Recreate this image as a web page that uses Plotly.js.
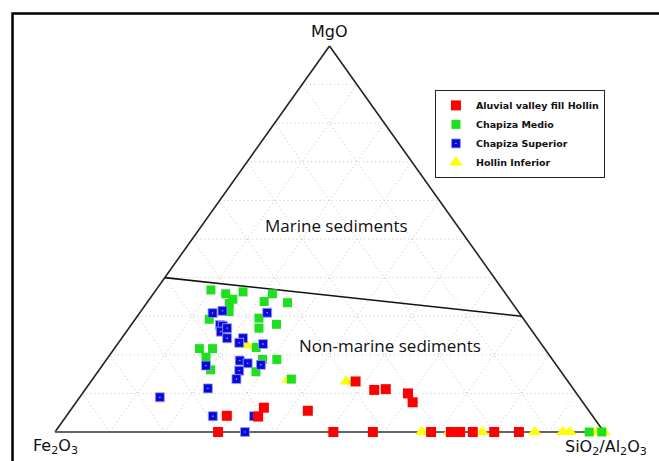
<!DOCTYPE html>
<html>
<head>
<meta charset="utf-8">
<script src="https://cdn.plot.ly/plotly-3.0.1.min.js"></script>
<style>html,body{margin:0;padding:0;background:#fff;}#chart{width:659px;height:461px;}</style>
</head>
<body>
<div id="chart"></div>
<script>
// Ternary components in percent: MgO (top), Fe2O3 (left), SiO2/Al2O3 (right)
const seriesNames = ["Aluvial valley fill Hollin", "Chapiza Medio", "Chapiza Superior", "Hollin Inferior"];

const aluvialMgO   = [4.2, 6.3, 4.0, 0, 5.5, 13.1, 10.9, 11.1, 10.0, 7.7, 0, 0, 0, 0, 0, 0, 0, 0];
const aluvialFe2O3 = [66.6, 58.8, 61.0, 70.3, 51.2, 38.7, 36.4, 34.2, 30.7, 31.0, 49.3, 42.1, 31.5, 27.9, 26.2, 23.9, 20.0, 15.5];
const aluvialSiAl  = [29.2, 34.9, 35.0, 29.7, 43.3, 48.2, 52.7, 54.7, 59.3, 61.3, 50.7, 57.9, 68.5, 72.1, 73.8, 76.1, 80.0, 84.5];

const medioMgO   = [36.8, 35.8, 36.3, 34.4, 33.3, 31.2, 35.8, 33.8, 33.5, 29.2, 29.5, 26.9, 27.9, 21.6, 21.6, 19.4, 21.9, 18.8, 18.8, 16.1, 15.6, 13.7, 0, 0];
const medioFe2O3 = [53.2, 51.0, 47.6, 50.4, 51.6, 52.7, 42.5, 45.0, 40.9, 57.3, 48.1, 49.4, 45.7, 62.9, 60.5, 62.8, 52.4, 52.8, 50.2, 63.6, 55.6, 50.1, 2.7, 0.4];
const medioSiAl  = [10.0, 13.2, 16.1, 15.2, 15.1, 16.1, 21.7, 21.2, 25.6, 13.5, 22.4, 23.7, 26.4, 15.5, 17.9, 17.8, 25.7, 28.4, 31.0, 20.3, 28.8, 36.2, 97.3, 99.6];

const superiorMgO   = [30.8, 31.4, 30.9, 27.7, 27.5, 26.0, 26.9, 24.3, 24.3, 23.1, 22.8, 18.5, 17.8, 17.4, 17.2, 15.9, 13.7, 11.3, 9.0, 4.1, 4.1, 0];
const superiorFe2O3 = [55.9, 53.8, 45.9, 56.1, 55.7, 56.8, 55.2, 56.5, 53.6, 54.9, 50.7, 57.1, 56.0, 53.8, 63.9, 58.5, 60.1, 66.5, 76.4, 69.2, 61.7, 65.4];
const superiorSiAl  = [13.3, 14.8, 23.2, 16.2, 16.8, 17.2, 17.9, 19.2, 22.1, 22.0, 26.5, 24.4, 26.2, 28.8, 18.9, 25.6, 26.2, 22.2, 14.6, 26.7, 34.2, 34.6];

const inferiorMgO   = [13.5, 13.1, 22.5, 0, 0, 0, 0, 0, 0, 0, 0, 0];
const inferiorFe2O3 = [50.8, 40.4, 53.8, 33.2, 28.2, 23.5, 22.2, 12.6, 7.5, 6.2, 1.3, 0];
const inferiorSiAl  = [35.7, 46.5, 23.7, 66.8, 71.8, 76.5, 77.8, 87.4, 92.5, 93.8, 98.7, 100];

// Marine / non-marine boundary
const boundaryMgO   = [40, 30];
const boundaryFe2O3 = [60, 0];
const boundarySiAl  = [0, 70];

// ternary -> cartesian (equilateral layout, stretched by axis ranges)
function toXY(A, B, C) {
  const x = [], y = [];
  for (let i = 0; i < A.length; i++) {
    const s = A[i] + B[i] + C[i];
    const a = A[i] / s, c = C[i] / s;
    x.push(c + a / 2);
    y.push(a);
  }
  return {x, y};
}

function pts(A, B, C, name, marker, rank) {
  const p = toXY(A, B, C);
  return {type: 'scatter', mode: 'markers', x: p.x, y: p.y, name: name,
          marker: marker, legendrank: rank, hoverinfo: 'name'};
}

const b = toXY(boundaryMgO, boundaryFe2O3, boundarySiAl);
const traces = [
  {type: 'scatter', mode: 'lines', x: b.x, y: b.y, showlegend: false, hoverinfo: 'skip',
   line: {color: '#111', width: 1.6}},
  pts(inferiorMgO, inferiorFe2O3, inferiorSiAl, seriesNames[3],
      {symbol: 'triangle-up', size: 12, color: '#ffff00', line: {width: 0}}, 4),
  pts(medioMgO, medioFe2O3, medioSiAl, seriesNames[1],
      {symbol: 'square', size: 9, color: '#1ee01e', line: {width: 0}}, 2),
  pts(superiorMgO, superiorFe2O3, superiorSiAl, seriesNames[2],
      {symbol: 'square-dot', size: 9, color: '#0a0ad8', line: {color: '#9aa0ff', width: 0.8}}, 3),
  pts(aluvialMgO, aluvialFe2O3, aluvialSiAl, seriesNames[0],
      {symbol: 'square', size: 10, color: '#ff0000', line: {width: 0}}, 1)
];

// grid, outline and frame
const shapes = [];
const gridStyle = {color: '#c4c4c4', width: 1, dash: '1px,3px'};
for (let k = 1; k <= 9; k++) {
  const f = k / 10;
  shapes.push({type: 'line', xref: 'x', yref: 'y', layer: 'below', x0: f / 2, y0: f, x1: 1 - f / 2, y1: f, line: gridStyle});
  shapes.push({type: 'line', xref: 'x', yref: 'y', layer: 'below', x0: f, y0: 0, x1: f + (1 - f) / 2, y1: 1 - f, line: gridStyle});
  shapes.push({type: 'line', xref: 'x', yref: 'y', layer: 'below', x0: 1 - f, y0: 0, x1: (1 - f) / 2, y1: 1 - f, line: gridStyle});
}
shapes.push({type: 'line', xref: 'x', yref: 'y', layer: 'below', x0: 0, y0: 0, x1: 0.5, y1: 1, line: {color: '#222', width: 1.6}});
shapes.push({type: 'line', xref: 'x', yref: 'y', layer: 'below', x0: 1, y0: 0, x1: 0.5, y1: 1, line: {color: '#222', width: 1.6}});
shapes.push({type: 'line', xref: 'x', yref: 'y', layer: 'below', x0: 0, y0: 0, x1: 1, y1: 0, line: {color: '#666', width: 2}});
shapes.push({type: 'rect', xref: 'paper', yref: 'paper', x0: 0.019, y0: -0.1, x1: 1.1, y1: 0.9707,
             line: {color: '#000', width: 2.5}, fillcolor: 'rgba(0,0,0,0)'});

const vfont = {family: 'DejaVu Sans, Arial, sans-serif', size: 16, color: '#111'};
const rfont = {family: 'Open Sans, Noto Sans, sans-serif', size: 17, color: '#111'};
const annotations = [
  {x: 0.5, y: 1, xref: 'x', yref: 'y', text: 'MgO', showarrow: false, yshift: 15, font: vfont},
  {x: 0, y: 0, xref: 'x', yref: 'y', text: 'Fe<sub>2</sub>O<sub>3</sub>', showarrow: false, yshift: -14, font: vfont},
  {x: 1, y: 0, xref: 'x', yref: 'y', text: 'SiO<sub>2</sub>/Al<sub>2</sub>O<sub>3</sub>', showarrow: false, yshift: -15, xshift: 2, font: vfont},
  {x: 0.512, y: 0.536, xref: 'x', yref: 'y', text: 'Marine sediments', showarrow: false, font: rfont},
  {x: 0.610, y: 0.223, xref: 'x', yref: 'y', text: 'Non-marine sediments', showarrow: false, font: rfont}
];

const layout = {
  width: 659, height: 461,
  margin: {l: 0, r: 0, t: 0, b: 0},
  paper_bgcolor: '#fff', plot_bgcolor: '#fff',
  xaxis: {range: [-0.1002, 1.1002], visible: false, showgrid: false, zeroline: false, fixedrange: true},
  yaxis: {range: [-0.07513, 1.1192], visible: false, showgrid: false, zeroline: false, fixedrange: true},
  showlegend: true,
  legend: {x: 0.66, y: 0.805, xanchor: 'left', yanchor: 'top', bgcolor: '#fff',
           bordercolor: '#222', borderwidth: 1, itemwidth: 30,
           font: {family: 'DejaVu Sans, Arial, sans-serif', size: 9.5, weight: 'bold', color: '#111'}},
  shapes: shapes,
  annotations: annotations
};

Plotly.newPlot('chart', traces, layout, {displayModeBar: false, staticPlot: true});
</script>
</body>
</html>
